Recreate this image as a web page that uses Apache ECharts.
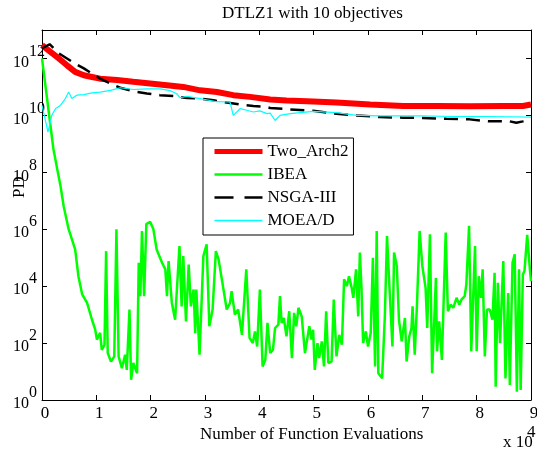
<!DOCTYPE html>
<html>
<head>
<meta charset="utf-8">
<script src="https://cdn.jsdelivr.net/npm/echarts@6/dist/echarts.min.js"></script>
<style>
  html, body { margin: 0; padding: 0; background: #fff; }
  #chart { width: 537px; height: 453px; }
</style>
</head>
<body>
<div id="chart"></div>
<script>
// x in units of 10^4 function evaluations, y = log10(PD)
const twoArch2Points = [
  [0, 12.47], [0.15, 12.24], [0.31, 12.0], [0.46, 11.76], [0.61, 11.53], [0.77, 11.41],
  [0.92, 11.35], [1.07, 11.29], [1.38, 11.24], [1.68, 11.18], [1.99, 11.12], [2.3, 11.06],
  [2.6, 11.0], [2.91, 10.88], [3.22, 10.82], [3.52, 10.71], [3.83, 10.65], [4.2, 10.56],
  [4.5, 10.52], [4.99, 10.49], [5.42, 10.45], [6.04, 10.38], [6.65, 10.33], [7.26, 10.33],
  [7.87, 10.32], [8.49, 10.33], [8.85, 10.33], [9.0, 10.38]
];

const ibeaPoints = [
  [0, 12.0], [0.21, 8.82], [0.28, 8.12], [0.34, 7.53], [0.40, 6.8], [0.49, 6.0], [0.61, 5.29],
  [0.67, 4.35], [0.74, 3.71], [0.83, 3.41], [0.92, 2.82], [0.98, 2.47], [1.01, 2.12], [1.07, 2.36],
  [1.10, 1.76], [1.15, 1.94], [1.18, 5.23], [1.21, 1.65], [1.27, 1.35], [1.33, 1.53], [1.37, 6.0],
  [1.41, 1.53], [1.47, 1.12], [1.53, 1.59], [1.56, 1.06], [1.61, 3.18], [1.64, 0.71], [1.68, 1.3],
  [1.75, 0.94], [1.78, 4.82], [1.81, 3.65], [1.84, 5.94], [1.88, 3.65], [1.92, 6.18], [1.99, 6.26],
  [2.05, 6.0], [2.11, 5.29], [2.21, 4.82], [2.27, 4.59], [2.30, 3.65], [2.33, 4.88], [2.39, 3.41],
  [2.45, 2.82], [2.53, 5.41], [2.57, 3.29], [2.60, 5.06], [2.65, 2.76], [2.70, 4.76], [2.74, 3.29],
  [2.79, 3.88], [2.82, 2.35], [2.84, 3.88], [2.90, 1.59], [2.97, 5.06], [3.03, 5.47], [3.08, 2.59],
  [3.14, 3.18], [3.20, 5.23], [3.25, 4.94], [3.31, 4.24], [3.40, 3.18], [3.46, 3.41], [3.49, 3.82],
  [3.55, 3.0], [3.61, 3.18], [3.68, 2.29], [3.76, 4.59], [3.82, 2.18], [3.88, 2.0], [3.92, 2.41],
  [3.96, 1.88], [4.01, 3.88], [4.06, 1.18], [4.11, 1.41], [4.15, 2.71], [4.20, 1.65], [4.25, 1.76],
  [4.29, 2.53], [4.35, 2.65], [4.38, 3.65], [4.41, 2.71], [4.45, 2.88], [4.50, 2.24], [4.55, 3.12],
  [4.60, 1.47], [4.64, 3.06], [4.68, 2.59], [4.72, 3.24], [4.78, 2.94], [4.84, 1.65], [4.88, 2.12],
  [4.92, 2.59], [4.96, 2.12], [4.99, 2.47], [5.02, 1.06], [5.07, 2.0], [5.10, 1.47], [5.15, 2.06],
  [5.19, 1.18], [5.23, 3.12], [5.27, 1.3], [5.33, 1.35], [5.37, 3.53], [5.42, 1.53], [5.47, 2.29],
  [5.52, 1.94], [5.56, 4.24], [5.61, 4.0], [5.65, 4.35], [5.70, 3.94], [5.73, 3.59], [5.78, 4.59],
  [5.82, 2.94], [5.85, 5.18], [5.88, 3.94], [5.91, 2.0], [5.96, 2.41], [6.00, 1.88], [6.05, 2.35],
  [6.09, 5.0], [6.13, 1.18], [6.16, 5.94], [6.19, 0.94], [6.26, 0.76], [6.31, 2.94], [6.35, 5.76],
  [6.40, 3.76], [6.45, 1.88], [6.48, 5.18], [6.53, 4.71], [6.57, 2.82], [6.62, 2.06], [6.68, 2.88],
  [6.71, 1.35], [6.76, 2.24], [6.80, 2.53], [6.82, 3.29], [6.86, 1.59], [6.90, 3.29], [6.95, 5.94],
  [7.00, 4.71], [7.06, 3.94], [7.09, 2.53], [7.14, 5.82], [7.18, 0.94], [7.22, 2.82], [7.25, 4.29],
  [7.27, 1.71], [7.31, 2.76], [7.36, 1.41], [7.43, 5.88], [7.47, 3.12], [7.52, 3.35], [7.57, 3.24],
  [7.63, 3.59], [7.68, 3.35], [7.72, 3.53], [7.78, 3.65], [7.81, 4.06], [7.86, 6.12], [7.90, 1.71],
  [7.97, 5.41], [8.00, 1.71], [8.04, 4.35], [8.08, 3.59], [8.11, 4.59], [8.15, 1.53], [8.19, 3.18],
  [8.24, 3.18], [8.29, 2.82], [8.33, 4.47], [8.35, 0.47], [8.39, 4.12], [8.43, 2.0], [8.49, 4.88],
  [8.53, 0.76], [8.58, 3.76], [8.61, 0.53], [8.66, 4.82], [8.70, 5.12], [8.74, 0.29], [8.78, 4.59],
  [8.81, 0.35], [8.85, 4.41], [8.88, 4.53], [8.93, 5.8], [8.98, 4.59], [9.0, 4.18]
];

const nsga3Points = [
  [0, 12.35], [0.14, 12.5], [0.31, 12.18], [0.46, 12.0], [0.61, 11.82], [0.77, 11.65],
  [0.92, 11.47], [1.07, 11.29], [1.26, 11.12], [1.35, 11.04], [1.44, 10.97], [1.68, 10.85],
  [1.93, 10.77], [2.17, 10.71], [2.42, 10.68], [2.67, 10.61], [2.91, 10.59], [3.16, 10.53],
  [3.4, 10.45], [3.65, 10.38], [3.89, 10.33], [4.14, 10.29], [4.2, 10.26], [4.56, 10.21],
  [4.99, 10.16], [5.42, 10.06], [5.79, 10.0], [6.22, 9.94], [6.65, 9.92], [7.02, 9.91],
  [7.44, 9.88], [7.87, 9.86], [8.24, 9.79], [8.61, 9.79], [8.73, 9.74], [8.85, 9.79], [9.0, 9.86]
];

const moeadPoints = [
  [0, 10.35], [0.04, 10.02], [0.11, 9.41], [0.18, 10.0], [0.25, 10.24], [0.34, 10.35],
  [0.43, 10.59], [0.49, 10.82], [0.55, 10.59], [0.64, 10.71], [0.77, 10.73], [0.92, 10.79],
  [1.07, 10.82], [1.26, 10.88], [1.38, 10.94], [1.44, 10.97], [1.68, 10.91], [1.93, 10.93],
  [2.18, 10.93], [2.36, 10.87], [2.48, 10.76], [2.54, 10.62], [2.67, 10.67], [2.91, 10.59],
  [3.22, 10.48], [3.46, 10.47], [3.52, 10.0], [3.65, 10.24], [3.77, 10.18], [3.89, 10.12],
  [4.01, 10.16], [4.14, 10.06], [4.2, 10.08], [4.29, 9.82], [4.38, 10.0], [4.57, 10.06],
  [4.99, 10.14], [5.42, 10.1], [5.79, 10.0], [6.22, 9.98], [6.95, 9.98], [7.57, 9.96],
  [8.18, 9.96], [9.0, 9.94]
];

const seriesNames = ['Two_Arch2', 'IBEA', 'NSGA-III', 'MOEA/D'];
const xTicks = [0, 1, 2, 3, 4, 5, 6, 7, 8, 9];

const serif = "'Liberation Serif', 'DejaVu Serif', serif";

const chart = echarts.init(document.getElementById('chart'));

// "10" with a raised exponent, like MATLAB log tick labels
const yLabel = {
  show: true,
  align: 'left',
  margin: 29,
  padding: [26, 0, 0, 0],
  fontFamily: serif,
  formatter: function (v) {
    return v % 2 === 0 ? '{b|10}{s|' + v + '}' : '';
  },
  rich: {
    b: { fontSize: 16, fontFamily: serif, color: '#000', lineHeight: 16, verticalAlign: 'bottom', padding: [0, 0, 9, 0] },
    s: { fontSize: 16, fontFamily: serif, color: '#000', lineHeight: 16, verticalAlign: 'bottom', padding: [0, 0, 20, 0] }
  }
};

const axisBase = {
  type: 'value',
  axisLine: { show: true, onZero: false, lineStyle: { color: '#000', width: 1 } },
  axisTick: { show: true, inside: true, length: 5, lineStyle: { color: '#000' } },
  splitLine: { show: false }
};

const option = {
  animation: false,
  backgroundColor: '#fff',
  grid: { left: 42, right: 6, top: 30, bottom: 53, containLabel: false, outerBoundsMode: 'none' },
  legend: {
    orient: 'vertical',
    left: 203,
    top: 138,
    padding: [5, 5, 6, 9],
    itemWidth: 48,
    itemHeight: 14,
    itemGap: 6,
    borderColor: '#000',
    borderWidth: 1,
    backgroundColor: '#fff',
    itemStyle: { opacity: 0 },
    textStyle: { fontFamily: serif, fontSize: 17, color: '#000' },
    data: [
      { name: 'Two_Arch2', lineStyle: { width: 5 } },
      { name: 'IBEA', lineStyle: { width: 2.5 } },
      { name: 'NSGA-III', lineStyle: { width: 2.5, type: [19, 11] } },
      { name: 'MOEA/D', lineStyle: { width: 1.5 } }
    ]
  },
  xAxis: [
    Object.assign({}, axisBase, {
      min: 0, max: 9, interval: 1, position: 'bottom',
      axisLabel: {
        margin: 5, fontFamily: serif, fontSize: 17, color: '#000', padding: [0, 0, 0, 6],
        formatter: function (v) { return xTicks.indexOf(v) >= 0 ? String(v) : ''; }
      }
    }),
    Object.assign({}, axisBase, {
      min: 0, max: 9, interval: 1, position: 'top',
      axisLabel: { show: false }
    })
  ],
  yAxis: [
    Object.assign({}, axisBase, {
      min: 0, max: 13, interval: 2, position: 'left',
      axisLabel: yLabel
    }),
    Object.assign({}, axisBase, {
      min: 0, max: 13, interval: 2, position: 'right',
      axisLabel: { show: false }
    })
  ],
  series: [
    {
      name: seriesNames[0], type: 'line', data: twoArch2Points, symbol: 'none',
      itemStyle: { color: '#ff0000', opacity: 0 },
      lineStyle: { color: '#ff0000', width: 6 }, z: 2
    },
    {
      name: seriesNames[1], type: 'line', data: ibeaPoints, symbol: 'none',
      itemStyle: { color: '#00ff00', opacity: 0 },
      lineStyle: { color: '#00ff00', width: 2.5 }, z: 3
    },
    {
      name: seriesNames[2], type: 'line', data: nsga3Points, symbol: 'none',
      itemStyle: { color: '#000000', opacity: 0 },
      lineStyle: { color: '#000000', width: 2.5, type: [14, 8] }, z: 4
    },
    {
      name: seriesNames[3], type: 'line', data: moeadPoints, symbol: 'none',
      itemStyle: { color: '#00ffff', opacity: 0 },
      lineStyle: { color: '#00ffff', width: 1.2 }, z: 5
    }
  ],
  graphic: [
    {
      type: 'text', left: 222, top: 5,
      style: { text: 'DTLZ1 with 10 objectives', fontFamily: serif, fontSize: 17, fill: '#000' }
    },
    {
      type: 'text', x: 11, y: 198, rotation: Math.PI / 2,
      style: { text: 'PD', fontFamily: serif, fontSize: 17, fill: '#000', textVerticalAlign: 'top' }
    },
    {
      type: 'text', left: 200, top: 426,
      style: { text: 'Number of Function Evaluations', fontFamily: serif, fontSize: 17, fill: '#000' }
    },
    {
      type: 'text', left: 503, top: 434,
      style: { text: 'x 10', fontFamily: serif, fontSize: 17, fill: '#000' }
    },
    {
      type: 'text', left: 527, top: 424,
      style: { text: '4', fontFamily: serif, fontSize: 17, fill: '#000' }
    }
  ]
};

chart.setOption(option);
</script>
</body>
</html>
